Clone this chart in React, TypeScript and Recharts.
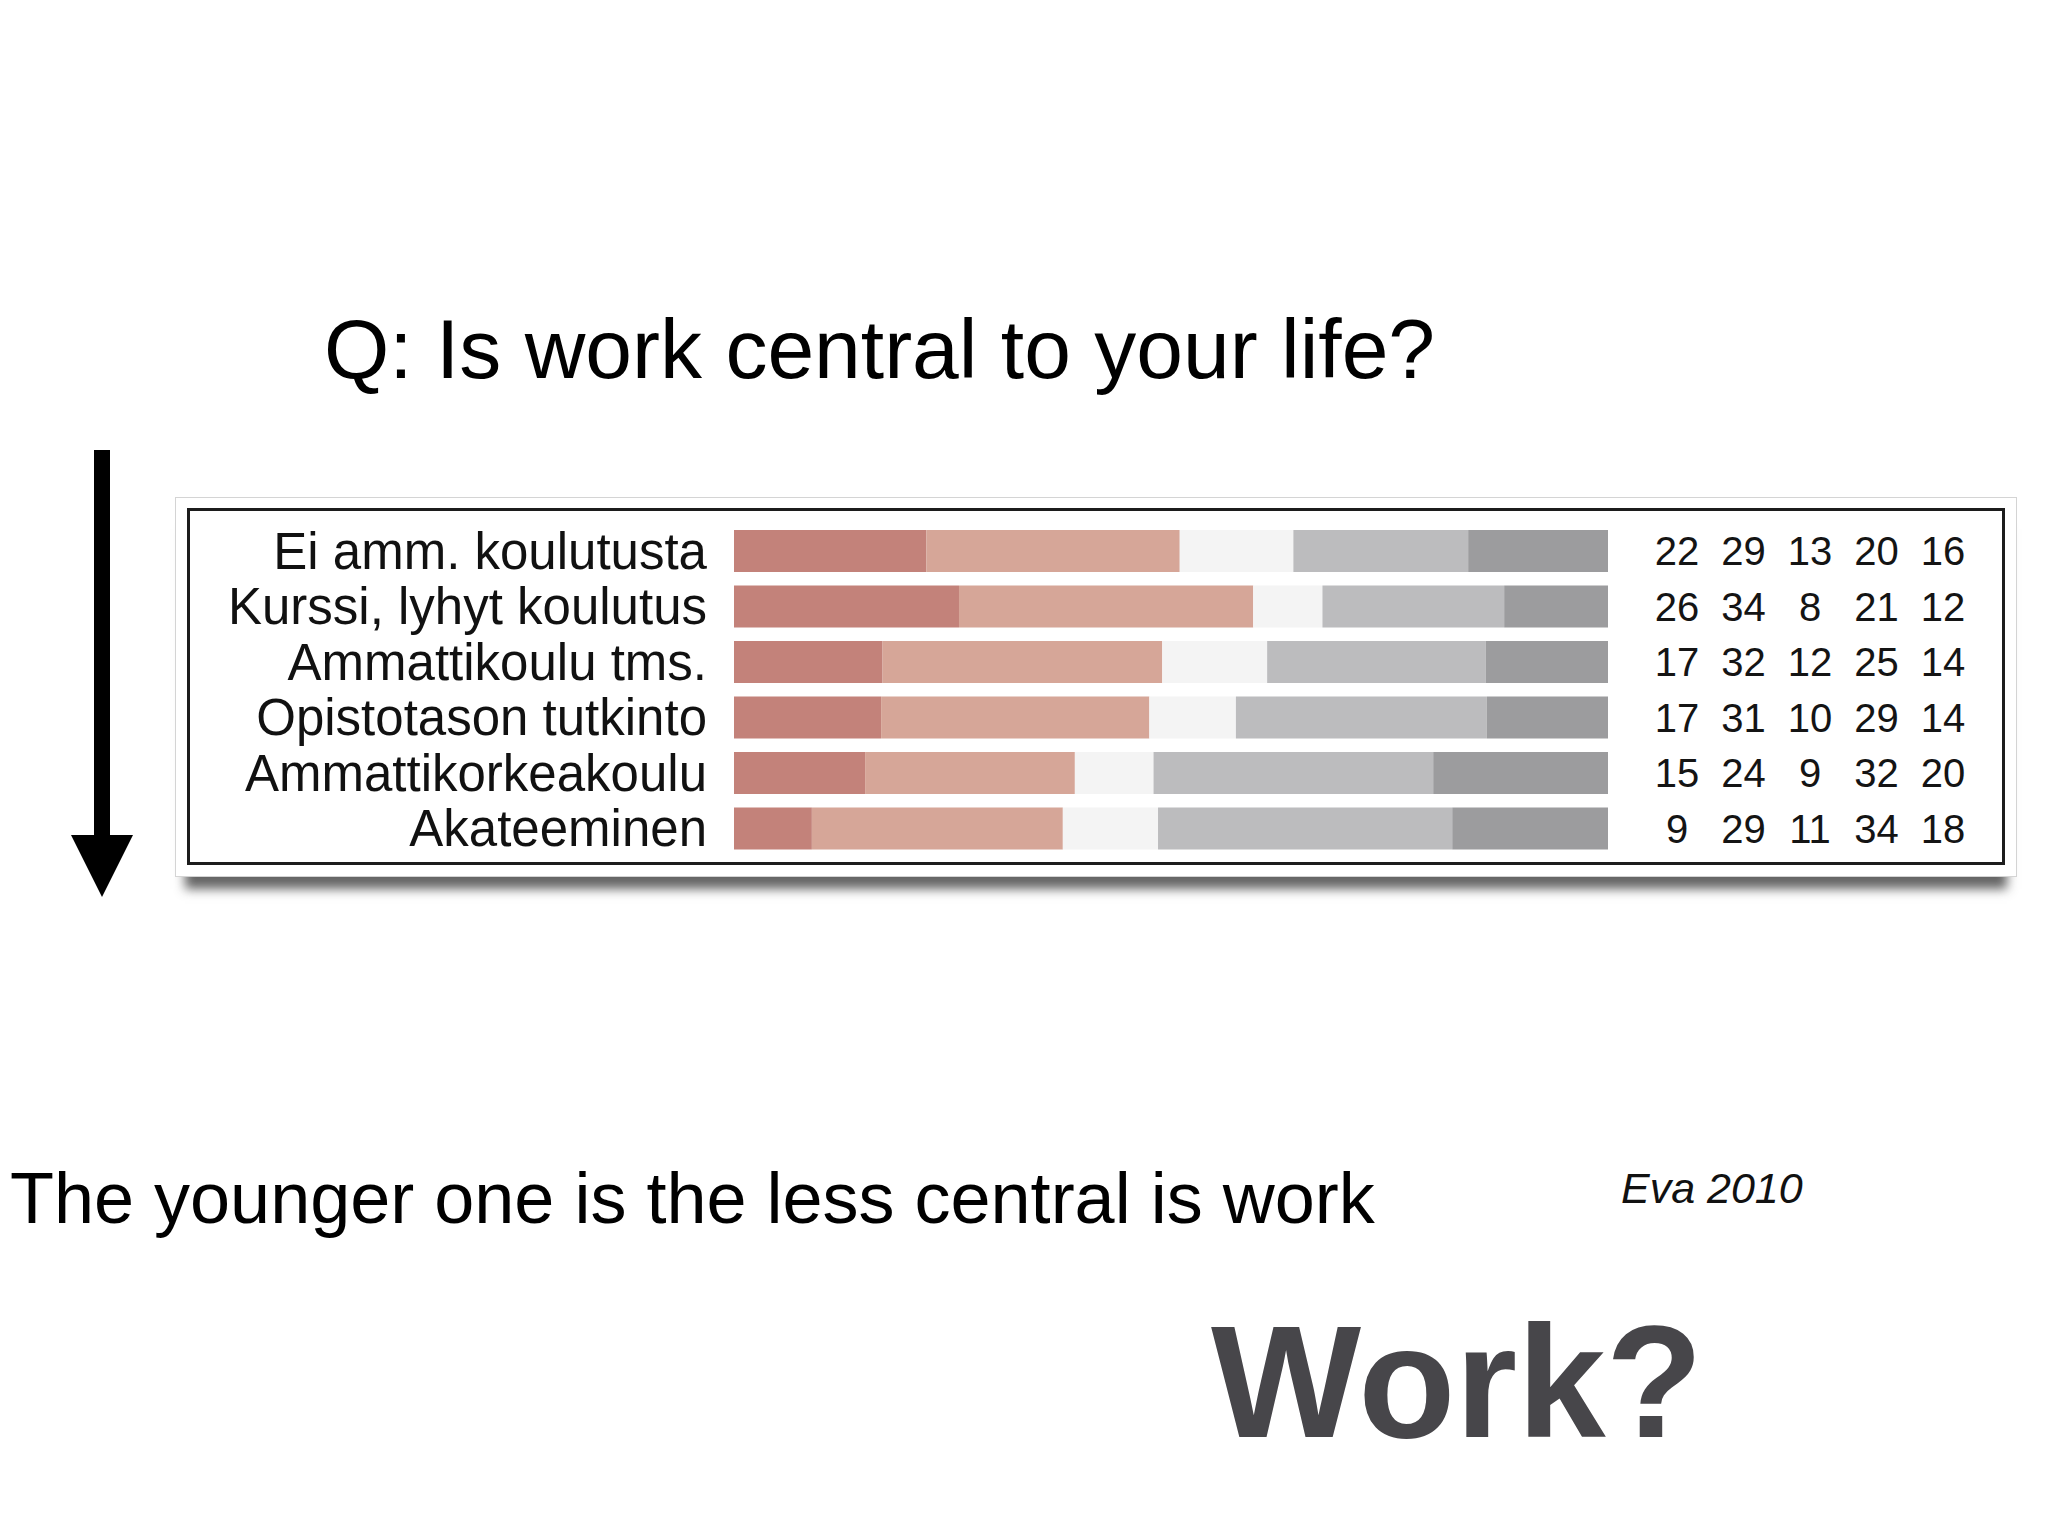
import React from "react";
import { BarChart, Bar, XAxis, YAxis } from "recharts";

const categories = [
  "Ei amm. koulutusta",
  "Kurssi, lyhyt koulutus",
  "Ammattikoulu tms.",
  "Opistotason tutkinto",
  "Ammattikorkeakoulu",
  "Akateeminen",
];

// five answer groups, left to right
const s1 = [22, 26, 17, 17, 15, 9];
const s2 = [29, 34, 32, 31, 24, 29];
const s3 = [13, 8, 12, 10, 9, 11];
const s4 = [20, 21, 25, 29, 32, 34];
const s5 = [16, 12, 14, 14, 20, 18];

const seriesKeys = ["s1", "s2", "s3", "s4", "s5"];
const seriesValues = [s1, s2, s3, s4, s5];
const seriesColors = ["#c3827a", "#d6a698", "#f4f4f4", "#bcbcbe", "#9c9c9e"];

const data = categories.map((name, i) => ({
  name,
  s1: s1[i],
  s2: s2[i],
  s3: s3[i],
  s4: s4[i],
  s5: s5[i],
}));

const FONT = "'Liberation Sans', Arial, Helvetica, sans-serif";

function ValuesTick(props: any) {
  const { x, y, payload } = props;
  const i = categories.indexOf(payload.value);
  return (
    <g>
      {seriesValues.map((vals, k) => (
        <text
          key={k}
          x={x + 69 + k * 66.5}
          y={y}
          dy="0.36em"
          textAnchor="middle"
          fontFamily={FONT}
          fontSize={40}
          fill="#141414"
        >
          {vals[i]}
        </text>
      ))}
    </g>
  );
}

export default function App() {
  return (
    <div
      style={{
        position: "absolute",
        left: 0,
        top: 0,
        width: 2048,
        height: 1536,
        background: "#ffffff",
        overflow: "hidden",
        fontFamily: FONT,
      }}
    >
      {/* card with shadow */}
      <div
        style={{
          position: "absolute",
          left: 175,
          top: 497,
          width: 1842,
          height: 380,
          background: "#fff",
          border: "1px solid #d4d4d4",
          boxSizing: "border-box",
          boxShadow: "0 22px 10px -10px rgba(85,85,85,0.9)",
        }}
      />
      <div
        style={{
          position: "absolute",
          left: 187,
          top: 508,
          width: 1818,
          height: 357,
          border: "3px solid #1c1c1c",
          boxSizing: "border-box",
        }}
      />

      <div style={{ position: "absolute", left: 0, top: 0 }}>
        <BarChart
          width={2048}
          height={900}
          data={data}
          layout="vertical"
          stackOffset="expand"
          barSize={42}
          margin={{ top: 523, right: 40, bottom: 44, left: 0 }}
        >
          <XAxis type="number" hide domain={[0, 1]} />
          <YAxis
            yAxisId="left"
            type="category"
            dataKey="name"
            width={734}
            axisLine={false}
            tickLine={false}
            tickSize={0}
            tickMargin={27}
            interval={0}
            tick={{ fill: "#111", fontSize: 51, fontFamily: FONT }}
          />
          <YAxis
            yAxisId="right"
            orientation="right"
            type="category"
            dataKey="name"
            width={400}
            axisLine={false}
            tickLine={false}
            tickSize={0}
            tickMargin={0}
            interval={0}
            tick={<ValuesTick />}
          />
          {seriesKeys.map((key, k) => (
            <Bar
              key={key}
              yAxisId="left"
              dataKey={key}
              stackId="a"
              fill={seriesColors[k]}
              isAnimationActive={false}
            />
          ))}
        </BarChart>
      </div>

      <svg
        width={2048}
        height={1536}
        style={{ position: "absolute", left: 0, top: 0, pointerEvents: "none" }}
      >
        <text x={324} y={378} fontFamily={FONT} fontSize={84} fill="#000">
          Q: Is work central to your life?
        </text>
        <rect x={94} y={450} width={16} height={390} fill="#000" />
        <polygon points="71,835 133,835 102,897" fill="#000" />
        <text x={10} y={1223} fontFamily={FONT} fontSize={72} fill="#000">
          The younger one is the less central is work
        </text>
        <text
          x={1621}
          y={1203}
          fontFamily={FONT}
          fontSize={43}
          fontStyle="italic"
          fill="#111"
        >
          Eva 2010
        </text>
        <text
          x={1211}
          y={1437}
          fontFamily={FONT}
          fontSize={159}
          fontWeight="bold"
          fill="#47464a"
        >
          Work?
        </text>
      </svg>
    </div>
  );
}
